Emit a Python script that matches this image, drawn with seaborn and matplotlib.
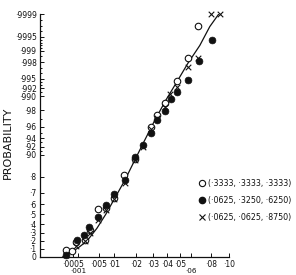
import numpy as np
import pandas as pd
import seaborn as sns
import matplotlib
matplotlib.use('Agg')
import matplotlib.pyplot as plt
from matplotlib.lines import Line2D

# probability paper calibration (probability -> height on the printed paper)
p_grid = [0, .1, .2, .3, .4, .5, .6, .7, .8, .9, .92, .94, .96, .98, .99, .992, .995, .998, .999, .9995, .9999]
h_grid = [0, 8, 16, 24.5, 33, 43, 53, 64, 80, 102, 110, 119, 130, 147, 161, 169, 178, 195, 206, 220, 243]

ytick_vals = p_grid
ytick_labels = ['0', '·1', '·2', '·3', '·4', '·5', '·6', '·7', '·8', '·90', '·92', '·94', '·96', '·98',
                '·990', '·992', '·995', '·998', '·999', '·9995', '·9999']
ytick_minor = [.91, .93, .95, .97, .991, .993, .994, .996, .997, .9985, .9991, .9992, .9993, .9994,
               .9996, .9997, .9998]

xtick_vals = [.0005, .005, .01, .02, .03, .04, .05, .08, .10]
xtick_labels = ['·0005', '·005', '·01', '·02', '·03', '·04', '·05', '·08', '·10']
xtick_low = [.001, .06]
xtick_low_labels = ['·001', '·06']

open_x = [0.00008, 0.0004, 0.0008, 0.0020, 0.0030, 0.0048, 0.0072, 0.0099, 0.0140, 0.0192,
          0.0284, 0.0328, 0.0380, 0.0473, 0.0570, 0.0666]
open_p = [0.086, 0.078, 0.19, 0.216, 0.325, 0.547, 0.563, 0.652, 0.808, 0.88,
          0.96, 0.974, 0.985, 0.9943, 0.9984, 0.9997]

filled_x = [0.00008, 0.00087, 0.0019, 0.0028, 0.0048, 0.0072, 0.0099, 0.0143, 0.0192, 0.0236,
            0.0284, 0.0328, 0.0382, 0.0428, 0.0478, 0.0570, 0.0670, 0.0809]
filled_p = [0.025, 0.2125, 0.271, 0.359, 0.467, 0.59, 0.691, 0.781, 0.892, 0.925,
            0.9497, 0.9682, 0.9788, 0.988, 0.991, 0.9947, 0.9981, 0.9994]

cross_x = [0.00008, 0.0008, 0.0020, 0.0030, 0.0048, 0.0072, 0.0099, 0.0143, 0.0192, 0.0239,
           0.0284, 0.0328, 0.0382, 0.042, 0.0473, 0.0570, 0.0663, 0.0802, 0.0901]
cross_p = [0.025, 0.14, 0.2, 0.3, 0.436, 0.54, 0.645, 0.7625, 0.877, 0.92,
           0.956, 0.971, 0.982, 0.9905, 0.9923, 0.9972, 0.9984, 0.9999, 0.9999]

curve_x = [0.000008, 0.00029, 0.00102, 0.00239, 0.00458, 0.00716, 0.0103, 0.0145, 0.0193,
           0.0249, 0.0312, 0.039, 0.0475, 0.057, 0.0683, 0.0784, 0.0882]
curve_p = [0.0, 0.05, 0.1125, 0.2, 0.35, 0.5, 0.655, 0.781, 0.877,
           0.9356, 0.968, 0.9871, 0.994, 0.99776, 0.99920, 0.99968, 0.9999]

labels = ['(·3333, ·3333, ·3333)', '(·0625, ·3250, ·6250)', '(·0625, ·0625, ·8750)']

sns.set_style('ticks')
plt.rcParams['font.family'] = ['DejaVu Sans']

fig = plt.figure(figsize=(2.96, 2.75), dpi=100)
ax = fig.add_axes([40/296, 18/275, 189/296, 243/275])

ax.set_xscale('function', functions=(lambda v: np.sign(v)*np.sqrt(np.abs(v)),
                                     lambda v: np.sign(v)*v**2))
ax.set_yscale('function', functions=(lambda v: np.interp(v, p_grid, h_grid),
                                     lambda v: np.interp(v, h_grid, p_grid)))

ink = '#111111'
sns.lineplot(x=curve_x, y=curve_p, ax=ax, color=ink, lw=0.9, sort=False, estimator=None)
sns.scatterplot(x=open_x, y=open_p, ax=ax, marker='o', s=22, facecolor='white',
                edgecolor=ink, linewidth=0.8, clip_on=False, zorder=3)
sns.scatterplot(x=filled_x, y=filled_p, ax=ax, marker='o', s=24, color=ink,
                edgecolor=ink, linewidth=0.5, clip_on=False, zorder=3)
sns.scatterplot(x=cross_x, y=cross_p, ax=ax, marker='x', s=16, color=ink,
                linewidth=0.8, clip_on=False, zorder=3)

ax.set_xlim(-0.00156, 0.1)
ax.set_ylim(0, 0.9999)
sns.despine(ax=ax)
for s in ['left', 'bottom']:
    ax.spines[s].set_linewidth(0.9)
    ax.spines[s].set_color(ink)

ax.set_yticks(ytick_vals)
ax.set_yticklabels(ytick_labels)
ax.set_yticks(ytick_minor, minor=True)
ax.set_xticks(xtick_vals)
ax.set_xticklabels(xtick_labels)
ax.set_xticks(xtick_low, minor=True)
ax.set_xticklabels(xtick_low_labels, minor=True)
ax.tick_params(axis='both', which='both', direction='in', colors=ink, labelsize=5.5, width=0.7)
ax.tick_params(axis='y', which='major', length=3, pad=2.5)
ax.tick_params(axis='y', which='minor', length=1.5)
ax.tick_params(axis='x', which='major', length=3, pad=2.5)
ax.tick_params(axis='x', which='minor', length=3, pad=8, labelsize=5.2)

fig.text(8/296, 1 - 143/275, 'PROBABILITY', rotation=90, ha='center', va='center',
         fontsize=8, color=ink)

handles = [Line2D([], [], ls='', marker='o', ms=4.5, mfc='white', mec=ink, mew=0.8),
           Line2D([], [], ls='', marker='o', ms=4.5, mfc=ink, mec=ink),
           Line2D([], [], ls='', marker='x', ms=4, mec=ink, mew=0.8)]
fig.legend(handles, labels, loc='upper left', bbox_to_anchor=(199/296, 1 - 179/275),
           frameon=False, fontsize=5.7, handlelength=0.8, handletextpad=0.4,
           labelspacing=1.0, borderpad=0, borderaxespad=0, labelcolor=ink)

fig.savefig('out.png', dpi=100)
